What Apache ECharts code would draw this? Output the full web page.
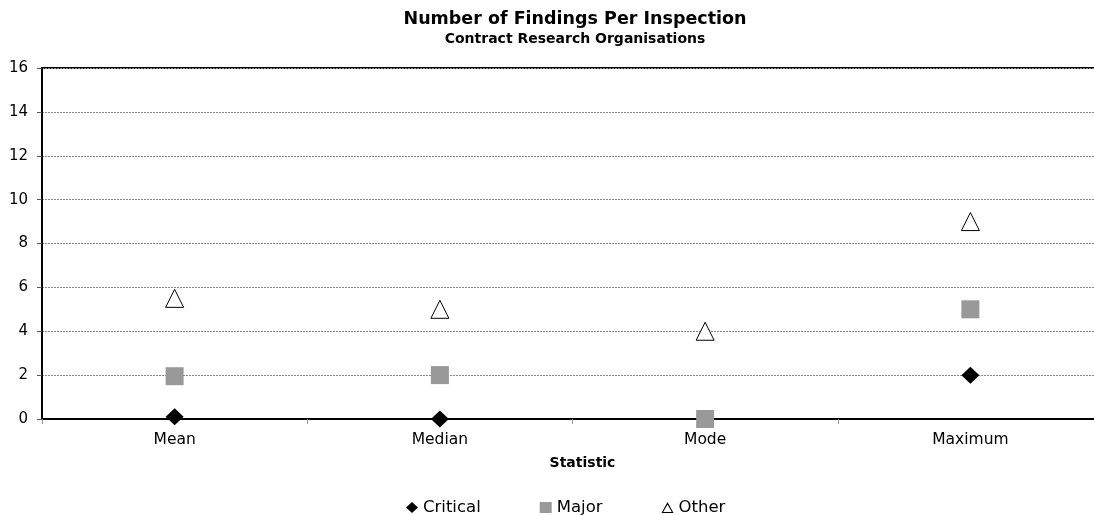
<!DOCTYPE html>
<html>
<head>
<meta charset="utf-8">
<script src="https://cdn.jsdelivr.net/npm/echarts@6/dist/echarts.min.js"></script>
<style>
  html, body { margin: 0; padding: 0; background: #fff; overflow: hidden; }
  #chart { width: 1094px; height: 515px; }
</style>
</head>
<body>
<div id="chart"></div>
<script>
// Findings per inspection, by summary statistic
const categories = ['Mean', 'Median', 'Mode', 'Maximum'];
const critical = [0.1, 0, 0, 2];
const major = [1.95, 2, 0, 5];
const other = [5.5, 5, 4, 9];

const chart = echarts.init(document.getElementById('chart'));
const font = 'DejaVu Sans, sans-serif';

// hollow triangle outline as a filled ring, so the thin base survives icon scaling
const hollowTriangle = 'path://M6,0 L12,11 L0,11 Z M6,2.4 L1.7,10 L10.3,10 Z';

chart.setOption({
  animation: false,
  backgroundColor: '#fff',
  title: {
    text: 'Number of Findings Per Inspection',
    subtext: 'Contract Research Organisations',
    left: 570,
    textAlign: 'center',
    top: 5,
    itemGap: 4,
    textStyle: { fontFamily: font, fontSize: 17.5, fontWeight: 'bold', color: '#000' },
    subtextStyle: { fontFamily: font, fontSize: 14, fontWeight: 'bold', color: '#000' }
  },
  // plot area runs a little past the right edge of the canvas
  grid: {
    left: 42, top: 68, width: 1061, height: 351,
    containLabel: false,
    outerBoundsMode: 'none',
    show: true, borderColor: '#000', borderWidth: 2, backgroundColor: 'transparent'
  },
  legend: {
    top: 494,
    left: 401,
    itemGap: 59,
    itemWidth: 12,
    itemHeight: 11,
    textStyle: { fontFamily: font, fontSize: 16.5, color: '#000' },
    data: [
      { name: 'Critical', icon: 'diamond' },
      { name: 'Major', icon: 'rect' },
      { name: 'Other', icon: hollowTriangle, itemStyle: { color: '#000', borderWidth: 0 } }
    ]
  },
  xAxis: {
    type: 'category',
    data: categories,
    boundaryGap: true,
    name: 'Statistic',
    nameLocation: 'middle',
    nameGap: 37,
    nameTextStyle: { fontFamily: font, fontSize: 14, fontWeight: 'bold', color: '#000', padding: [0, 0, 0, 20] },
    axisLine: { lineStyle: { color: '#000', width: 2 } },
    axisTick: { show: true, length: 5, lineStyle: { color: '#999' } },
    axisLabel: { fontFamily: font, fontSize: 15.5, color: '#000', margin: 13 },
    splitLine: { show: false }
  },
  yAxis: {
    type: 'value',
    min: 0, max: 16, interval: 2,
    axisLine: { show: true, lineStyle: { color: '#000', width: 2 } },
    axisTick: { show: true, length: 5, lineStyle: { color: '#555' } },
    axisLabel: { fontFamily: font, fontSize: 15, color: '#000', margin: 14 },
    splitLine: { show: true, lineStyle: { color: '#888', type: [2, 1], width: 1 } }
  },
  series: [
    {
      name: 'Critical', type: 'scatter', data: critical,
      symbol: 'diamond', symbolSize: [18, 17],
      itemStyle: { color: '#000', opacity: 1 }, z: 3
    },
    {
      name: 'Major', type: 'scatter', data: major,
      symbol: 'rect', symbolSize: 18,
      itemStyle: { color: '#999999', opacity: 1 }, z: 4
    },
    {
      name: 'Other', type: 'scatter', data: other,
      symbol: 'triangle', symbolSize: [18, 18],
      itemStyle: { color: '#fff', borderColor: '#000', borderWidth: 1, opacity: 1 }, z: 5
    }
  ]
});
</script>
</body>
</html>
